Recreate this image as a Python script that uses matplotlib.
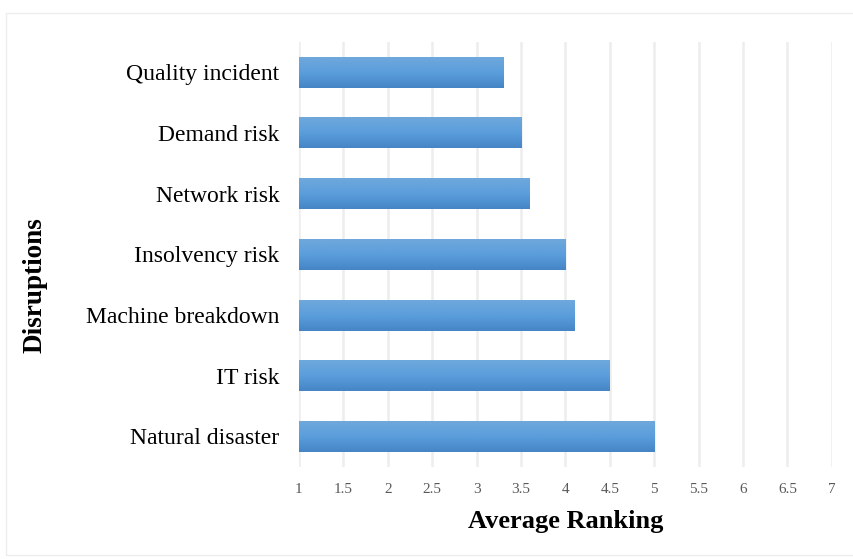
import matplotlib
matplotlib.use("Agg")
import matplotlib.pyplot as plt
import numpy as np
from matplotlib.colors import LinearSegmentedColormap
from matplotlib.patches import Rectangle

categories = ["Natural disaster", "IT risk", "Machine breakdown", "Insolvency risk",
              "Network risk", "Demand risk", "Quality incident"]
values = [5.0, 4.5, 4.1, 4.0, 3.6, 3.5, 3.3]
xticks = [1, 1.5, 2, 2.5, 3, 3.5, 4, 4.5, 5, 5.5, 6, 6.5, 7]

plt.rcParams['font.family'] = ['Liberation Serif', 'DejaVu Serif']

fig = plt.figure(figsize=(8.54, 5.59), dpi=100)
ax = fig.add_axes([0.350, 0.165, 0.624, 0.760])

fig.patches.append(Rectangle((6/854, 1 - 555/559), 1.0, (555 - 13)/559,
                             transform=fig.transFigure, fill=False,
                             edgecolor='#EDEDED', linewidth=1.0, zorder=0))

ypos = np.arange(len(categories))
bars = ax.barh(ypos, [v - 1 for v in values], left=1, height=0.51,
               color='none', edgecolor='none', zorder=3)

cmap = LinearSegmentedColormap.from_list('g', ['#4585C6', '#5B9EDC', '#6FA8DC'])
grad = np.linspace(0, 1, 256).reshape(-1, 1)
for b in bars:
    x0, y0 = b.get_x(), b.get_y()
    w, h = b.get_width(), b.get_height()
    ax.imshow(grad, cmap=cmap, aspect='auto', origin='lower',
              extent=[x0, x0 + w, y0, y0 + h], zorder=3)

ax.set_xlim(1, 7)
ax.set_ylim(-0.5, len(categories) - 0.5)
ax.set_xticks(xticks)
ax.set_xticklabels([f"{t:g}" for t in xticks], color='#595959', fontsize=11)
ax.set_yticks(ypos)
ax.set_yticklabels(categories, fontsize=17, color='black')
ax.tick_params(axis='x', length=0, pad=12)
ax.tick_params(axis='y', length=0, pad=14)
ax.grid(axis='x', color='#EDEDED', linewidth=1.8, zorder=0)
for s in ax.spines.values():
    s.set_visible(False)

ax.set_xlabel("Average Ranking", fontsize=19, fontweight='bold', labelpad=10)
fig.text(35/854, 1 - 285/559, "Disruptions", rotation=90, fontsize=19.5,
         fontweight='bold', ha='center', va='center')

fig.savefig("out.png", dpi=100)
